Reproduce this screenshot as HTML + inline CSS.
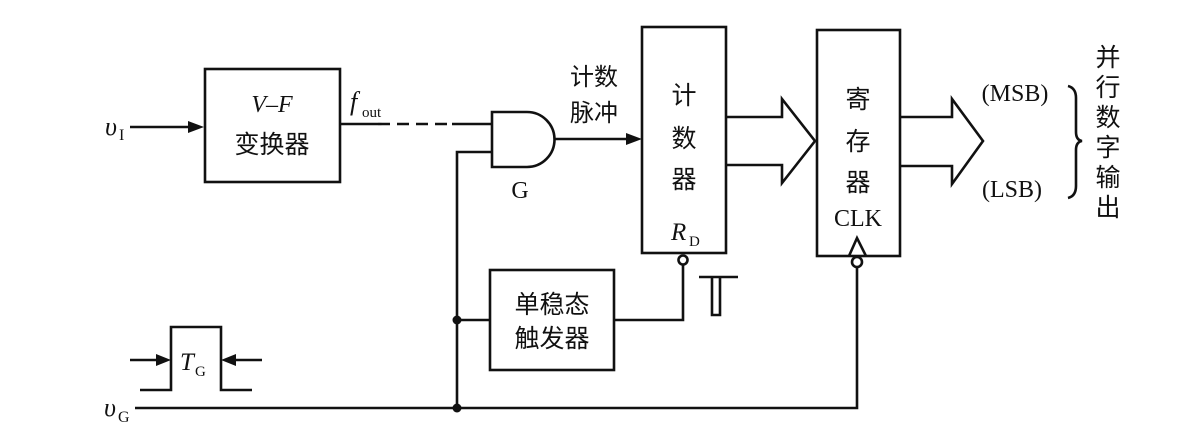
<!DOCTYPE html>
<html><head><meta charset="utf-8"><style>
html,body{margin:0;padding:0;background:#fff;}
svg{display:block;}
text{font-family:"Liberation Serif","Noto Serif CJK SC",serif;fill:#111;}
.cj{font-family:"Liberation Sans","Noto Sans CJK SC",sans-serif;}
</style></head><body>
<svg width="1193" height="448" viewBox="0 0 1193 448" xmlns="http://www.w3.org/2000/svg">
<g stroke="#111" stroke-width="2.6" fill="none">
<!-- VF box -->
<rect x="205" y="69" width="135" height="113"/>
<!-- input arrow -->
<line x1="130" y1="127" x2="190" y2="127"/>
<!-- fout line -->
<line x1="340" y1="124" x2="378" y2="124"/>
<line x1="378" y1="124" x2="452" y2="124" stroke-dasharray="12,7"/>
<line x1="452" y1="124" x2="492" y2="124"/>
<!-- gate -->
<path d="M492 112 H527 A27.5 27.5 0 0 1 527 167 H492 Z"/>
<line x1="555" y1="139" x2="630" y2="139"/>
<path d="M492 152 H457 V408"/>
<!-- counter -->
<rect x="642" y="27" width="84" height="226"/>
<!-- register -->
<rect x="817" y="30" width="83" height="226"/>
<!-- hollow arrow counter->register -->
<path d="M726 117 H782 V99 L815 141 L782 183 V165 H726"/>
<!-- output arrow -->
<path d="M900 117 H952 V99 L983 141 L952 184 V166 H900"/>
<!-- brace -->
<path d="M1068 86 Q1076 88 1076 98 V132 Q1076 140 1082 141 Q1076 142 1076 150 V186 Q1076 196 1068 198"/>
<!-- monostable -->
<rect x="490" y="270" width="124" height="100"/>
<line x1="457" y1="320" x2="490" y2="320"/>
<path d="M614 320 H683 V265"/>
<circle cx="683" cy="260" r="4.5" fill="#fff"/>
<!-- pulse symbol -->
<path d="M699 277 H738 M712 277 V315 H720 V277"/>
<!-- CLK -->
<path d="M849 256 L857 238 L866 256"/>
<circle cx="857" cy="262" r="5" fill="#fff"/>
<path d="M857 267 V408 H135"/>
<!-- TG pulse -->
<path d="M140 390 H171 V327 H221 V390 H252"/>
<line x1="130" y1="360" x2="160" y2="360"/>
<line x1="262" y1="360" x2="232" y2="360"/>
</g>
<g fill="#111">
<polygon points="204,127 188,121 188,133"/>
<polygon points="642,139 626,133 626,145"/>
<polygon points="171,360 156,354 156,366"/>
<polygon points="221,360 236,354 236,366"/>
<circle cx="457" cy="320" r="4.5"/>
<circle cx="457" cy="408" r="4.5"/>
</g>
<!-- labels -->
<text x="105" y="135" font-size="26" font-style="italic">υ</text><text x="119" y="140" font-size="16">I</text>
<text x="272" y="112" font-size="24" font-style="italic" text-anchor="middle">V–F</text>
<text x="272" y="153" font-size="25" text-anchor="middle" class="cj">变换器</text>
<text x="350" y="110" font-size="26" font-style="italic">f</text><text x="362" y="117" font-size="15">out</text>
<text x="520" y="198" font-size="24" text-anchor="middle">G</text>
<text x="594" y="85" font-size="24" text-anchor="middle" class="cj">计数</text>
<text x="594" y="121" font-size="24" text-anchor="middle" class="cj">脉冲</text>
<text x="684" y="104" font-size="25" text-anchor="middle" class="cj">计</text>
<text x="684" y="147" font-size="25" text-anchor="middle" class="cj">数</text>
<text x="684" y="188" font-size="25" text-anchor="middle" class="cj">器</text>
<text x="671" y="240" font-size="25" font-style="italic">R</text><text x="689" y="246" font-size="15">D</text>
<text x="858" y="108" font-size="25" text-anchor="middle" class="cj">寄</text>
<text x="858" y="150" font-size="25" text-anchor="middle" class="cj">存</text>
<text x="858" y="191" font-size="25" text-anchor="middle" class="cj">器</text>
<text x="858" y="226" font-size="24" text-anchor="middle">CLK</text>
<text x="552" y="313" font-size="25" text-anchor="middle" class="cj">单稳态</text>
<text x="552" y="347" font-size="25" text-anchor="middle" class="cj">触发器</text>
<text x="1015" y="101" font-size="24" text-anchor="middle">(MSB)</text>
<text x="1012" y="197" font-size="24" text-anchor="middle">(LSB)</text>
<g font-size="25" text-anchor="middle" class="cj">
<text x="1108" y="66" class="cj">并</text>
<text x="1108" y="96" class="cj">行</text>
<text x="1108" y="126" class="cj">数</text>
<text x="1108" y="156" class="cj">字</text>
<text x="1108" y="186" class="cj">输</text>
<text x="1108" y="216" class="cj">出</text>
</g>
<text x="180" y="370" font-size="25" font-style="italic">T</text><text x="195" y="376" font-size="15">G</text>
<text x="104" y="416" font-size="26" font-style="italic">υ</text><text x="118" y="422" font-size="16">G</text>
</svg>
</body></html>
